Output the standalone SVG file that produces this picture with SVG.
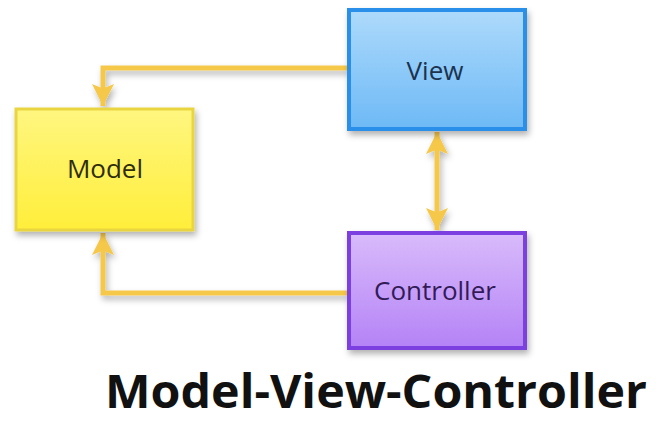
<svg xmlns="http://www.w3.org/2000/svg" width="659" height="421" viewBox="0 0 659 421">
<style>
.lbl{font-family:"Open Sans","Liberation Sans",sans-serif;font-size:26px;text-anchor:middle}
.conn{fill:none;stroke:#F6C84A;stroke-width:5;stroke-linejoin:miter}
.title{font-family:"Open Sans","Liberation Sans",sans-serif;font-size:46px;font-weight:bold;fill:#111}
</style>
<defs>
<linearGradient id="gM" x1="0" y1="0" x2="0" y2="1"><stop offset="0" stop-color="#FFF680"/><stop offset="1" stop-color="#FFEE3A"/></linearGradient>
<linearGradient id="gV" x1="0" y1="0" x2="0" y2="1"><stop offset="0" stop-color="#AEDAFB"/><stop offset="1" stop-color="#6DB9F6"/></linearGradient>
<linearGradient id="gC" x1="0" y1="0" x2="0" y2="1"><stop offset="0" stop-color="#D9BBFB"/><stop offset="1" stop-color="#B482F6"/></linearGradient>
<filter id="sh" x="-20%" y="-20%" width="140%" height="150%"><feDropShadow dx="2" dy="4" stdDeviation="3" flood-color="#000" flood-opacity="0.3"/></filter>
<marker id="ah" viewBox="0 0 10 10" refX="10" refY="5" markerWidth="4.4" markerHeight="4.4" orient="auto-start-reverse" markerUnits="strokeWidth"><path d="M0,0 L10,5 L0,10 L2,5 Z" fill="#F6C84A"/></marker>
</defs>
<g id="connectors" filter="url(#sh)">
<path class="conn" d="M348,68 H103 V106" marker-end="url(#ah)"/>
<path class="conn" d="M348,293 H103 V233" marker-end="url(#ah)"/>
<path class="conn" d="M437,132 V230" marker-start="url(#ah)" marker-end="url(#ah)"/>
</g>
<g id="model">
<rect x="16" y="109" width="177" height="121" fill="url(#gM)" stroke="#E9D540" stroke-width="3" filter="url(#sh)"/>
<text class="lbl" x="105" y="178" fill="#2E2C0C">Model</text>
</g>
<g id="view">
<rect x="349" y="10" width="176" height="119" fill="url(#gV)" stroke="#2C8FE9" stroke-width="4" filter="url(#sh)"/>
<text class="lbl" x="435" y="80" fill="#1A334F">View</text>
</g>
<g id="controller">
<rect x="349" y="233" width="176" height="115" fill="url(#gC)" stroke="#7B3FE0" stroke-width="4" filter="url(#sh)"/>
<text class="lbl" x="435" y="300" fill="#321B58">Controller</text>
</g>
<text class="title" x="105" y="408" textLength="542" lengthAdjust="spacingAndGlyphs">Model-View-Controller</text>
</svg>
